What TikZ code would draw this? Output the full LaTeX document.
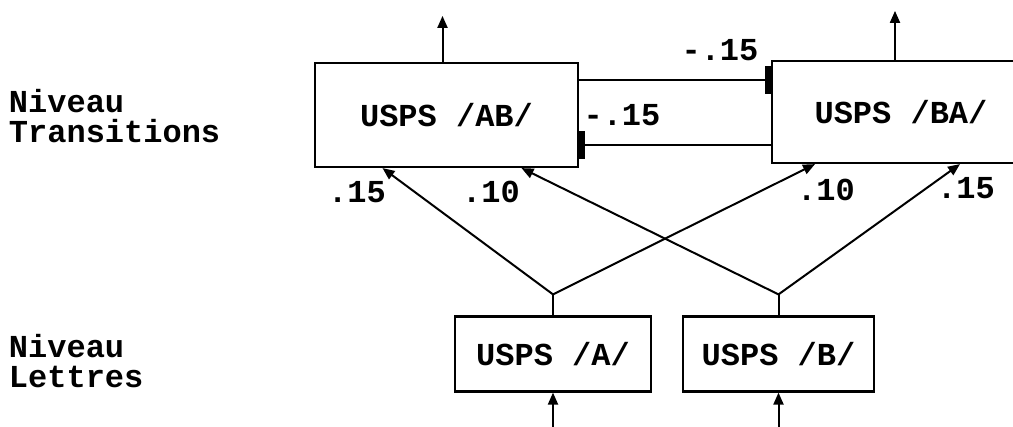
\documentclass[tikz,border=0pt]{standalone}
\usepackage{fontspec}
\setmonofont{Liberation Mono}
\usetikzlibrary{arrows.meta,calc,positioning}
\tikzset{
  unite/.style={draw, line width=2.2pt, inner sep=0pt},
  act/.style={-{Triangle[length=12pt,width=10pt]}, line width=2pt},
  inhib/.style={-{Bar[width=28pt,line width=6pt]}, line width=2pt},
  niveau/.style={align=left, anchor=base west, inner sep=0pt},
}
\begin{document}
\begin{tikzpicture}[x=1pt, y=-1pt, font=\ttfamily\bfseries\fontsize{32}{30}\selectfont, line width=2pt]
    \clip (0,0) rectangle (1013,427);
    % unités du niveau transitions et du niveau lettres
    \node[unite, minimum width=263pt, minimum height=104pt] (AB) at (446.5,115) {USPS /AB/};
    \node[unite, minimum width=258pt, minimum height=102pt] (BA) at (901,112) {USPS /BA/};
    \node[unite, minimum width=196pt, minimum height=75pt] (A) at (553,354) {USPS /A/};
    \node[unite, minimum width=191pt, minimum height=75pt] (B) at (778.5,354) {USPS /B/};
    \coordinate (jA) at ($(A.north)+(0,-21)$); \coordinate (jB) at ($(B.north)+(0,-21)$);
    \coordinate (sAB) at ($(AB.north)+(-4,-46)$); \coordinate (sBA) at ($(BA.north)+(-6,-49)$);
    \coordinate (eA) at ($(A.south)+(0,40)$); \coordinate (eB) at ($(B.south)+(0,40)$);
    % entrées et sorties
    \draw[act] (eA) -- (A.south); \draw[act] (eB) -- (B.south);
    \draw[act] ([xshift=-4pt]AB.north) -- (sAB);
    \draw[act] ([xshift=-6pt]BA.north) -- (sBA);
    % liaisons excitatrices
    \draw (A.north) -- (jA); \draw (B.north) -- (jB);
    \draw[act] (jA) -- ([xshift=-64pt]AB.south);
    \draw[act] (jB) -- ([xshift=75pt]AB.south);
    \draw[act] (jA) -- ([xshift=-86pt]BA.south);
    \draw[act] (jB) -- ([xshift=59pt]BA.south);
    % liaisons inhibitrices
    \draw[inhib] ([yshift=35pt]AB.east) -- ([yshift=35pt]AB.east -| BA.west);
    \draw[inhib] ([yshift=-30pt]AB.east -| BA.west) -- ([yshift=-30pt]AB.east);
    \node at (720,50) {-.15};
    \node at (622,115) {-.15};
    \node at (357,192) {.15};
    \node at (491,192) {.10};
    \node at (826,190) {.10};
    \node at (966,188) {.15};
    \node[niveau] (nivT) at (8,143) {Niveau\\Transitions};
    \node[niveau] (nivL) at (8,388) {Niveau\\Lettres};
  \end{tikzpicture}
\end{document}
